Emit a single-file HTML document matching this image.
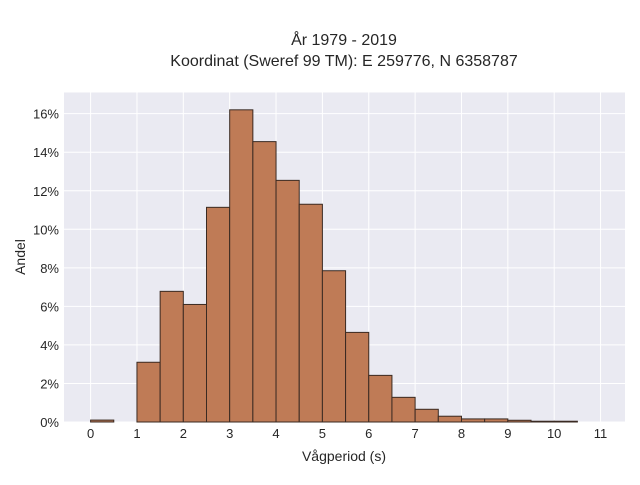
<!DOCTYPE html>
<html><head><meta charset="utf-8"><style>
body{margin:0;background:#fff;}
svg{font-family:"Liberation Sans",sans-serif;}
</style></head><body>
<svg width="640" height="480" xmlns="http://www.w3.org/2000/svg">
<rect width="640" height="480" fill="#fff"/>
<text x="344" y="45" text-anchor="middle" font-size="16" fill="#262626">År 1979 - 2019</text>
<text x="344" y="66" text-anchor="middle" font-size="16" fill="#262626">Koordinat (Sweref 99 TM): E 259776, N 6358787</text>
<rect x="64" y="92.5" width="561" height="329.5" fill="#eaeaf2"/>
<g id="grid"></g>
<g id="bars"></g>
<g id="ticks"></g>
<text x="344" y="461" text-anchor="middle" font-size="14" fill="#262626">Vågperiod (s)</text>
<text transform="translate(25,257) rotate(-90)" text-anchor="middle" font-size="14" fill="#262626">Andel</text>
</svg>
<script>
const binStarts=[0,0.5,1,1.5,2,2.5,3,3.5,4,4.5,5,5.5,6,6.5,7,7.5,8,8.5,9,9.5,10];
const shares=[0.1,0,3.1,6.78,6.1,11.14,16.2,14.55,12.54,11.3,7.85,4.65,2.42,1.28,0.66,0.3,0.16,0.16,0.09,0.04,0.04];
const xTicks=[0,1,2,3,4,5,6,7,8,9,10,11];
const yTicks=[0,2,4,6,8,10,12,14,16];
const binWidth=0.5;
const NS="http://www.w3.org/2000/svg";
const xs=v=>90.6+v*46.36;
const ys=v=>422-v*19.27;
function mk(tag,attrs,parent){const e=document.createElementNS(NS,tag);for(const k in attrs)e.setAttribute(k,attrs[k]);parent.appendChild(e);return e;}
const grid=document.getElementById('grid'),bars=document.getElementById('bars'),ticks=document.getElementById('ticks');
xTicks.forEach(t=>{
  const l=mk('line',{x1:xs(t),x2:xs(t),y1:92.5,y2:422,stroke:'#fff','stroke-width':1},grid);
  
  
  const tx=mk('text',{x:xs(t),y:438,'text-anchor':'middle','font-size':13,fill:'#262626'},ticks);
  tx.textContent=t;
  
  
});
yTicks.forEach(t=>{
  const l=mk('line',{x1:64,x2:625,y1:ys(t),y2:ys(t),stroke:'#fff','stroke-width':1},grid);
  
  
  const tx=mk('text',{x:59,y:ys(t)+5,'text-anchor':'end','font-size':13,fill:'#262626'},ticks);
  tx.textContent=t+'%';
  
  
});
binStarts.forEach((b,i)=>{
  if(shares[i]<=0)return;
  const x0=xs(b),x1=xs(b+binWidth),y=ys(shares[i]);
  const r=mk('rect',{x:x0,y:y,width:x1-x0,height:422-y,fill:'#bf7b56',stroke:'#3a2a22','stroke-width':1},bars);
  
  
});
</script>
</body></html>
